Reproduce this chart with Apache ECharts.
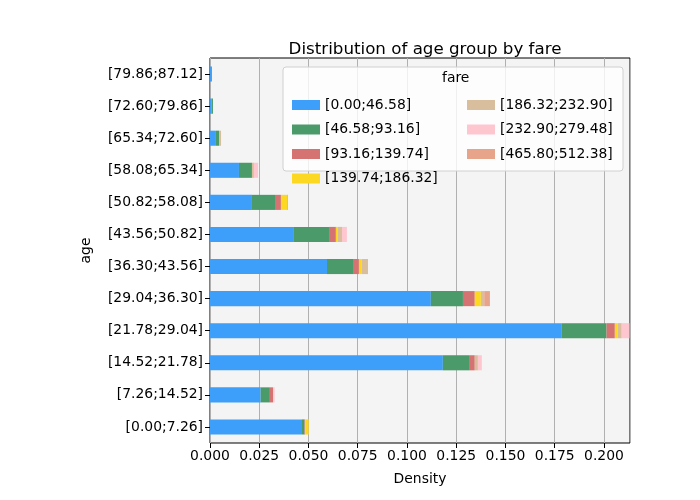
<!DOCTYPE html>
<html><head><meta charset="utf-8">
<script src="https://cdn.jsdelivr.net/npm/echarts@6/dist/echarts.min.js"></script>
<style>html,body{margin:0;padding:0;background:#fff}#c{width:700px;height:500px}</style>
</head><body><div id="c"></div>
<script>
const categories = ["[0.00;7.26]","[7.26;14.52]","[14.52;21.78]","[21.78;29.04]","[29.04;36.30]","[36.30;43.56]","[43.56;50.82]","[50.82;58.08]","[58.08;65.34]","[65.34;72.60]","[72.60;79.86]","[79.86;87.12]"];
const fareBins = ["[0.00;46.58]","[46.58;93.16]","[93.16;139.74]","[139.74;186.32]","[186.32;232.90]","[232.90;279.48]","[465.80;512.38]"];
const s0 = [0.0467,0.0257,0.1182,0.1786,0.1121,0.0594,0.0426,0.0213,0.0147,0.0030,0.0007,0.0010];
const s1 = [0.0013,0.0047,0.0137,0.0227,0.0163,0.0132,0.0178,0.0117,0.0066,0.0016,0.0008,0];
const s2 = [0.0003,0.0016,0.0025,0.0042,0.0060,0.0030,0.0035,0.0030,0,0,0,0];
const s3 = [0.0018,0,0,0.0015,0.0031,0.0015,0.0010,0.0031,0,0,0,0];
const s4 = [0,0,0.0016,0.0020,0.0017,0.0031,0.0021,0.0005,0.0010,0.0010,0,0];
const s5 = [0,0.0008,0.0020,0.0039,0,0,0.0025,0,0.0021,0,0,0];
const s6 = [0,0,0,0,0.0029,0,0,0,0,0,0,0];
const values = [s0,s1,s2,s3,s4,s5,s6];
const colors = ["#3d9ff9","#4a9a6a","#d47371","#fdd823","#d9be9d","#fec7d0","#e8a48a"];
const xTicks = {min:0,max:0.2132,interval:0.025};

const chart = echarts.init(document.getElementById('c'));
const font = 'DejaVu Sans';
const ts = {fontFamily:font,fontSize:13.9,color:'#000'};
chart.setOption({
  animation:false,
  title:{text:'Distribution of age group by fare',left:420,top:36,textAlign:'center',textStyle:{fontFamily:font,fontSize:16.7,fontWeight:'normal',color:'#000'}},
  grid:{left:210,right:70,top:58,bottom:57,backgroundColor:'#f4f4f4',show:true,borderColor:'#000',borderWidth:1},
  xAxis:{type:'value',min:xTicks.min,max:xTicks.max,interval:xTicks.interval,name:'Density',nameLocation:'middle',nameGap:29,
    nameTextStyle:ts,
    axisLine:{show:false},axisTick:{show:true,length:5,lineStyle:{color:'#000'}},
    axisLabel:Object.assign({showMaxLabel:false,margin:6,formatter:v=>v.toFixed(3)},ts),
    splitLine:{show:true,lineStyle:{color:'#b0b0b0',width:1}}},
  yAxis:{type:'category',data:categories,name:'age',nameLocation:'middle',nameGap:117,
    nameTextStyle:ts,
    axisLine:{show:false},axisTick:{show:true,alignWithLabel:true,length:5,lineStyle:{color:'#000'}},
    axisLabel:Object.assign({margin:7},ts),splitLine:{show:false}},
  legend:[
    {z:10,data:fareBins.slice(0,4),orient:'vertical',left:287,top:93,itemWidth:28,itemHeight:10,itemGap:10.5,icon:'rect',textStyle:ts},
    {z:10,data:fareBins.slice(4),orient:'vertical',left:462,top:93,itemWidth:28,itemHeight:10,itemGap:10.5,icon:'rect',textStyle:ts}
  ],
  graphic:[
    {type:'rect',z:5,shape:{x:283,y:67,width:340,height:104,r:3},style:{fill:'rgba(255,255,255,0.8)',stroke:'#d0d0d0'}},
    {type:'text',z:10,left:442,top:71,style:{text:'fare',font:'13.9px "DejaVu Sans"',fill:'#000'}}
  ],
  series: values.map((v,i)=>({name:fareBins[i],type:'bar',stack:'a',data:v,barWidth:'47%',itemStyle:{color:colors[i]}}))
});
</script></body></html>
